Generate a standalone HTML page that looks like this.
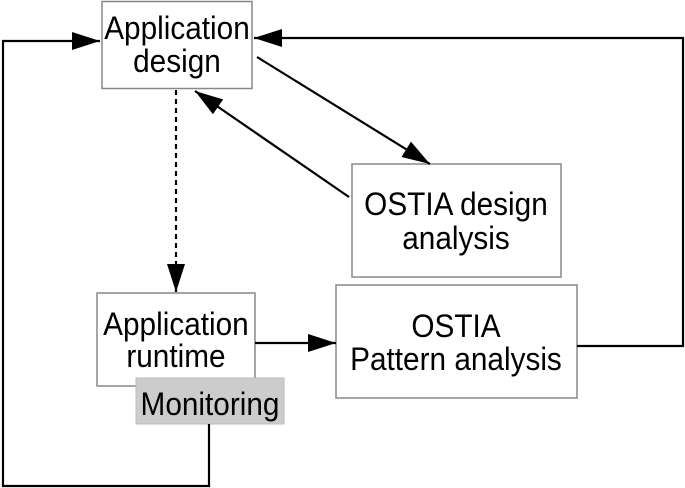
<!DOCTYPE html>
<html><head><style>html,body{margin:0;padding:0;background:#fff}svg{display:block}</style></head>
<body>
<svg width="685" height="488" viewBox="0 0 685 488" xmlns="http://www.w3.org/2000/svg" font-family="Liberation Sans, sans-serif" font-size="32" fill="#000">
<defs>
<marker id="b" markerWidth="28" markerHeight="18" refX="28" refY="9" orient="auto" markerUnits="userSpaceOnUse"><path d="M0,0 L28,9 L0,18 z" fill="#000"/></marker>
</defs>
<g fill="#fff" stroke="#888" stroke-width="1.5">
<rect x="102" y="1.5" width="150" height="87"/>
<rect x="352" y="164" width="209" height="113"/>
<rect x="97" y="293" width="158" height="93"/>
<rect x="336" y="285" width="241" height="113"/>
</g>
<rect x="136" y="378" width="148" height="46" fill="#cccccc" stroke="#bbb" stroke-width="1"/>
<g fill="none" stroke="#000" stroke-width="2.2">
<path d="M209,424 V486 H3 V41 H100" marker-end="url(#b)"/>
<path d="M577,346 H683 V38 H254" marker-end="url(#b)"/>
<path d="M257,57 L430,164" marker-end="url(#b)"/>
<path d="M349,197 L195,91" marker-end="url(#b)"/>
<path d="M255,343 H336" marker-end="url(#b)"/>
<path d="M176,90 V292" stroke-dasharray="5,4" marker-end="url(#b)"/>
</g>
<g text-anchor="middle" transform="scale(0.93,1)">
<text x="190.3" y="39">Application</text>
<text x="190.3" y="72">design</text>
<text x="490.3" y="215">OSTIA design</text>
<text x="490.3" y="249">analysis</text>
<text x="189.2" y="335">Application</text>
<text x="189.2" y="367">runtime</text>
<text x="225.8" y="415">Monitoring</text>
<text x="490.3" y="337">OSTIA</text>
<text x="490.3" y="370">Pattern analysis</text>
</g>
</svg>
</body></html>
